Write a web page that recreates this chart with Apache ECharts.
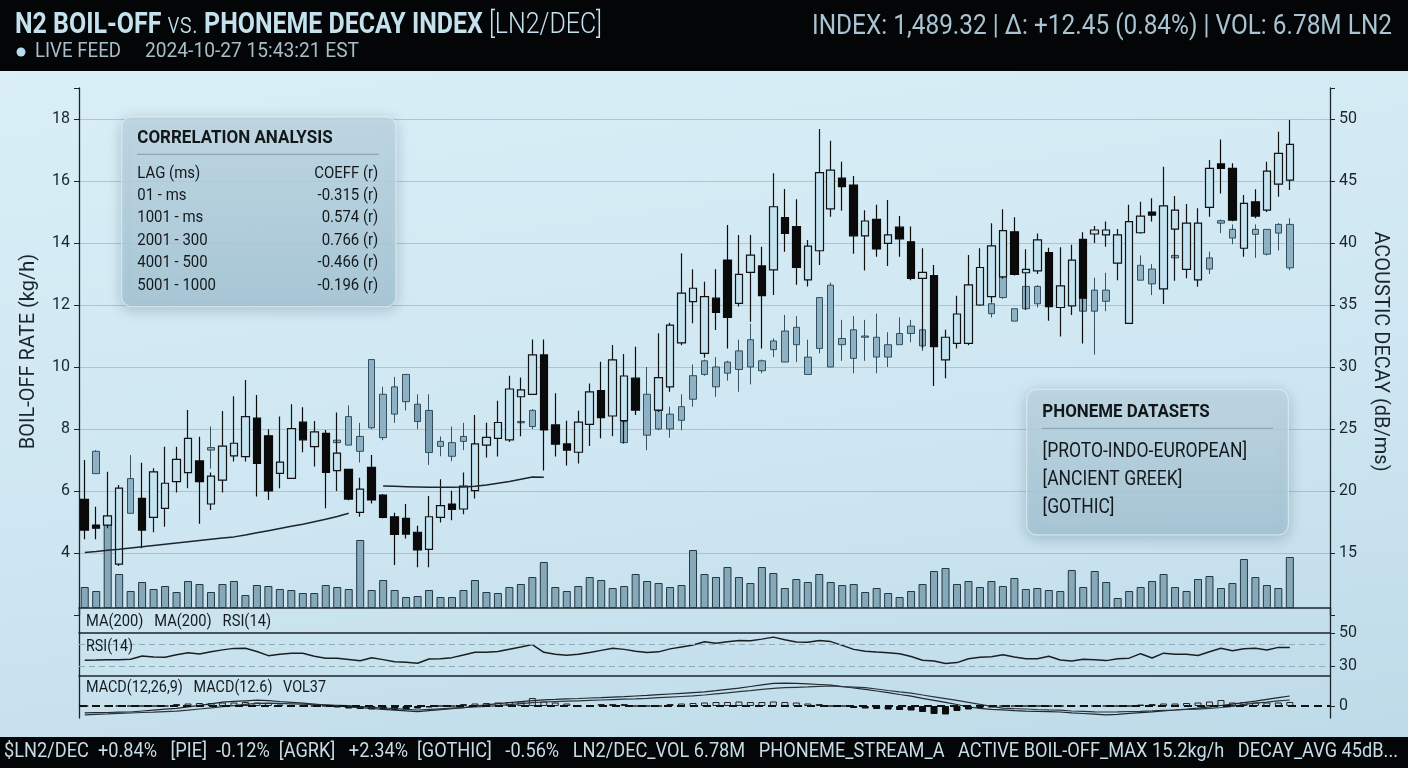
<!DOCTYPE html>
<html lang="en">
<head>
<meta charset="UTF-8">
<title>N2 Boil-off vs Phoneme Decay Index</title>
<style>
  html, body { margin: 0; padding: 0; width: 1408px; height: 768px; overflow: hidden;
    background: linear-gradient(172deg, #dbf0f8 0%, #cfe7f2 55%, #bddae8 100%); }
  #main { width: 1408px; height: 768px; }
</style>
</head>
<body>
<div id="main"></div>
<script src="https://cdn.jsdelivr.net/npm/echarts@6.0.0/dist/echarts.min.js"></script>
<script>
// ---- data ----
var slotCount = 109; // category slots on the time axis (last few stay empty)

// boil-off candles: [open, close, low, high] in kg/h
var boilOff = [
  [5.73,4.74,4.44,7.00],[4.90,4.80,4.44,5.49],[4.90,5.20,4.80,6.62],[3.64,6.09,3.58,6.19],['-','-','-','-'],
  [5.76,4.74,4.15,6.91],[5.15,6.62,4.67,6.73],[5.44,6.25,4.85,7.43],[6.30,7.02,5.95,7.43],[6.59,7.70,6.09,8.61],
  [6.97,6.30,4.94,7.75],[5.58,6.48,5.39,6.60],[6.35,7.45,5.95,8.58],[7.13,7.54,6.95,9.06],[7.11,8.40,6.95,9.58],
  [8.35,6.89,5.82,9.10],[7.78,6.00,5.71,7.99],[6.57,6.93,6.09,8.40],[6.41,8.01,6.41,8.80],[8.22,7.65,7.25,8.70],
  [7.43,7.91,6.79,8.26],[7.86,6.60,5.44,7.97],[6.66,7.22,6.00,8.53],[6.70,5.74,5.70,6.70],[5.31,6.06,5.17,6.43],
  [6.76,5.71,5.60,7.16],[5.87,5.15,5.12,5.90],[5.17,4.60,3.61,5.30],[5.12,4.61,4.47,5.58],[4.67,4.10,3.54,4.88],
  [4.12,5.17,3.54,5.84],[5.15,5.53,4.98,6.38],[5.58,5.41,5.06,6.01],[5.42,6.16,5.25,6.60],[6.01,7.52,5.76,8.45],
  [7.48,7.73,7.08,8.20],[7.70,8.21,7.11,8.91],[7.65,9.29,7.58,9.72],[9.04,9.26,7.77,9.66],[9.12,10.39,9.10,10.89],
  [10.39,7.97,6.66,10.89],[8.13,7.51,7.11,9.15],[7.52,7.32,6.82,8.27],[7.25,8.22,6.89,8.59],[8.15,9.20,7.45,9.47],
  [9.24,8.37,7.70,10.17],[8.42,10.23,7.77,10.71],[8.27,9.71,7.56,10.42],[9.64,8.61,8.45,10.65],['-','-','-','-'],
  [8.61,9.66,8.55,11.09],[9.36,11.35,9.20,11.43],[10.78,12.38,10.70,13.67],[12.11,12.54,11.41,13.15],[10.44,12.27,10.30,12.75],
  [12.22,11.76,11.19,13.15],[13.45,11.60,10.60,14.58],[12.05,12.99,11.95,14.26],[13.05,13.61,11.46,14.26],[13.26,12.30,10.60,13.88],
  [13.13,15.17,12.32,16.25],[14.82,14.31,13.72,15.74],[14.53,13.21,12.65,15.41],[12.81,13.90,12.60,14.10],[13.75,16.27,13.29,17.68],
  [15.10,16.35,14.85,17.30],[16.09,15.82,15.04,16.62],[15.87,14.23,13.65,16.16],[14.23,14.71,13.11,15.06],[14.76,13.81,13.56,15.23],
  [13.99,14.26,13.26,15.39],[14.51,14.13,13.56,14.87],[14.04,12.86,12.80,14.53],[12.86,13.05,10.60,13.83],[12.95,10.66,9.39,13.29],
  [10.23,10.96,9.64,11.20],[10.76,11.71,10.60,12.30],[10.76,12.65,10.70,13.61],[12.00,13.21,11.97,13.83],[12.27,13.91,12.10,14.64],
  [12.91,14.40,12.85,15.09],[14.36,12.99,12.95,14.83],[13.04,13.15,11.84,13.80],[13.10,14.10,13.00,14.31],[13.69,11.95,11.49,13.85],
  [11.92,12.62,10.98,13.86],[11.97,13.45,11.68,13.94],[14.12,12.22,10.76,14.35],[14.29,14.42,14.00,14.55],[14.26,14.42,13.88,14.69],
  [13.35,14.26,12.80,14.45],[11.41,14.69,11.40,15.23],[14.33,14.87,14.30,15.33],[15.00,14.90,14.69,15.44],[12.52,15.20,12.03,16.46],
  [14.45,15.06,12.78,15.52],[13.15,14.64,12.86,15.26],[12.81,14.64,12.59,15.12],[15.15,16.41,14.85,16.68],[16.55,16.41,15.60,17.34],
  [16.41,14.74,14.70,16.57],[13.83,15.28,13.56,15.55],[15.33,14.87,14.80,15.73],[15.06,16.32,15.00,16.62],[15.90,16.89,15.49,17.59],
  [16.03,17.18,15.71,17.97]
];

// acoustic decay candles (right axis, dB/ms): [slot, open, close, low, high]
var decayCandles = [
  [1,21.4,23.2,21.4,23.3],[4,18.2,21.0,18.2,22.9],[11,23.3,23.5,21.8,25.2],[22,23.9,24.1,23.8,24.3],
  [23,23.7,26.0,23.7,26.9],[24,23.2,24.4,22.3,25.5],[25,25.1,30.6,25.0,30.6],[26,24.3,27.8,24.1,28.4],
  [27,26.2,28.4,25.5,29.2],[28,27.2,29.4,26.5,29.4],[29,27.0,25.6,25.0,27.8],[30,26.5,23.1,22.1,27.8],
  [31,23.6,24.0,22.8,24.4],[32,22.8,23.9,22.4,25.2],[33,24.0,24.4,23.3,25.5],[38,25.5,25.6,25.3,25.8],
  [39,25.2,26.5,25.0,26.6],[47,23.9,25.6,23.8,25.8],[49,24.5,27.8,23.3,30.0],[50,25.0,26.5,24.9,26.6],
  [51,25.0,26.2,24.3,26.8],[52,25.7,26.8,24.9,27.8],[53,27.4,29.3,26.8,30.2],[54,29.4,30.5,29.3,30.6],
  [55,28.4,30.0,27.6,30.8],[56,29.5,30.4,28.9,30.5],[57,29.8,31.3,28.0,32.2],[58,30.0,32.2,28.6,33.5],
  [59,29.7,30.5,29.5,30.6],[60,31.4,32.1,30.8,32.3],[61,30.4,32.9,30.4,34.2],[62,31.8,33.2,30.4,34.1],
  [63,29.4,30.8,29.4,32.2],[64,31.5,35.6,31.1,35.6],[65,30.0,36.6,30.0,36.8],[66,31.8,32.3,30.5,33.8],
  [67,30.7,33.0,29.5,34.1],[68,32.4,32.5,30.5,33.8],[69,30.8,32.4,29.5,34.3],[70,30.8,31.8,30.0,32.8],
  [71,31.8,32.7,31.8,34.0],[72,32.7,33.3,32.0,33.8],[73,31.7,33.0,31.3,33.0],[79,34.3,35.1,34.0,35.3],
  [80,35.6,37.3,35.5,37.4],[81,33.7,34.7,33.7,34.7],[82,34.7,36.5,34.6,36.6],[83,35.1,36.5,34.8,36.6],
  [87,34.5,36.2,34.3,36.3],[88,34.5,36.2,31.0,37.2],[89,35.3,36.2,34.5,37.6],[92,37.0,38.2,37.0,39.0],
  [93,36.7,37.9,35.8,38.3],[95,38.8,39.0,38.8,39.0],[98,37.9,38.8,37.5,39.3],[99,41.6,41.8,40.8,41.9],
  [100,40.4,41.1,39.9,41.5],[102,40.7,41.1,38.8,41.5],[103,39.1,41.1,39.0,41.1],[104,40.8,41.5,39.4,41.6],
  [105,38.0,41.5,37.8,42.0]
];

// MA(200) overlay on boil-off (kg/h), broken between slots 23 and 26
var ma200 = [4.02,4.05,4.09,4.12,4.16,4.20,4.24,4.28,4.32,4.36,4.40,4.44,4.48,4.52,4.58,4.65,4.72,4.79,4.86,4.93,
  5.01,5.09,5.18,5.28,'-','-',6.16,6.15,6.14,6.13,6.12,6.12,6.12,6.13,6.15,6.19,6.25,6.31,6.38,6.45,6.44];

var volume = [21,17,92,34,17,26,19,22,16,27, 24,16,24,27,13,23,22,19,18,15, 15,23,21,19,68,18,28,18,11,12,
  18,11,11,18,28,16,15,21,24,31, 46,21,17,22,31,28,20,22,34,27, 25,21,23,58,34,31,41,31,25,41,
  35,20,29,26,34,26,23,24,16,20, 15,11,17,24,37,40,24,27,21,27, 22,30,19,20,18,17,38,21,37,26,
  10,17,21,27,34,21,17,29,32,20, 25,49,31,23,20,51];

var rsi14 = [33.5,33.6,33.8,33.9,34.1,36.1,35.5,35.3,36.9,38.1, 37.3,38.7,39.8,40.7,40.8,38.8,36.3,37.1,37.8,37.7,
  35.9,34.7,34.7,34.0,33.2,35.0,33.9,32.6,32.3,31.7, 34.3,34.5,35.1,36.7,38.3,38.3,38.8,40.2,41.5,43.0,
  38.3,37.2,36.5,37.2,38.2,39.5,40.8,40.1,39.0,38.2, 38.6,40.4,41.6,42.8,44.7,43.8,44.7,45.5,45.3,46.3,
  47.5,45.9,44.5,44.4,45.4,44.8,42.5,40.1,39.0,38.5, 38.1,37.5,35.8,33.5,33.1,31.6,32.1,34.4,35.4,35.6,
  36.8,35.5,34.4,34.4,35.9,33.7,33.1,34.1,33.8,33.3, 34.4,34.8,37.5,34.9,37.8,37.1,37.1,36.4,38.7,40.8,
  39.3,40.5,40.8,39.7,41.3,41.3];
var rsiBands = [43.3, 30];
var rsiTicks = [30, 50];

var macdLine = [-0.69,-0.67,-0.65,-0.62,-0.60,-0.50,-0.41,-0.32,-0.23,-0.09, 0.07,0.22,0.38,0.46,0.52,0.58,0.54,0.45,0.37,0.28,
  0.19,0.09,0.00,-0.09,-0.17,-0.25,-0.33,-0.41,-0.49,-0.57, -0.47,-0.37,-0.27,-0.16,-0.02,0.11,0.23,0.34,0.43,0.53,
  0.62,0.66,0.71,0.75,0.80,0.84,0.89,0.94,1.00,1.06, 1.13,1.20,1.27,1.34,1.41,1.53,1.66,1.79,1.95,2.11,
  2.27,2.28,2.26,2.21,2.15,2.09,1.95,1.80,1.66,1.50, 1.33,1.15,0.98,0.77,0.57,0.37,0.15,-0.10,-0.24,-0.34,
  -0.39,-0.47,-0.52,-0.54,-0.57,-0.60,-0.68,-0.75,-0.82,-0.89, -0.83,-0.74,-0.66,-0.58,-0.49,-0.40,-0.31,-0.21,-0.08,0.05,
  0.19,0.33,0.49,0.66,0.83,1.00];
var signalLine = [-0.88,-0.83,-0.79,-0.74,-0.70,-0.65,-0.61,-0.56,-0.51,-0.41, -0.30,-0.19,-0.07,0.04,0.16,0.27,0.29,0.26,0.22,0.18,
  0.14,0.11,0.07,0.03,-0.06,-0.13,-0.20,-0.26,-0.33,-0.40, -0.34,-0.28,-0.22,-0.16,-0.10,-0.04,0.03,0.13,0.23,0.33,
  0.40,0.44,0.48,0.52,0.56,0.60,0.64,0.68,0.72,0.77, 0.83,0.89,0.95,1.01,1.10,1.21,1.32,1.43,1.54,1.66,
  1.77,1.83,1.87,1.91,1.96,2.00,1.94,1.89,1.83,1.70, 1.55,1.41,1.28,1.10,0.92,0.74,0.56,0.37,0.17,-0.03,
  -0.21,-0.26,-0.30,-0.35,-0.39,-0.42,-0.50,-0.54,-0.58,-0.60, -0.58,-0.55,-0.53,-0.49,-0.44,-0.40,-0.35,-0.31,-0.24,-0.15,
  -0.05,0.16,0.28,0.39,0.51,0.60];
var macdHist = [0,0,0,0,0,0,0,0,0.2,0.25, 0.3,0.3,0.35,0.35,0.4,0.35,0.3,0.15,0,0,
  0,0,-0.15,-0.25,-0.3,-0.35,-0.35,-0.4,-0.35,-0.25, -0.15,0,0,0.2,0.25,0.3,0.35,0.4,0.45,0.8,
  0.45,0.35,0.25,0,0,0.2,0.2,0.2,0,0, 0,0.2,0.25,0.3,0.35,0.4,0.4,0.45,0.4,0.4,
  0.45,0.4,0.35,0.25,0.2,0,0,-0.2,-0.25,-0.3, -0.35,-0.4,-0.45,-0.6,-0.8,-0.85,-0.5,-0.35,-0.2,-0.15,
  0,0,0,0,0,0,0,0,0,0, 0,0,0.15,0.2,0.25,0.25,0.3,0.35,0.45,0.6,
  0.35,0.4,0.35,0.35,0.35,0.4];
var macdTicks = [0];

var corrLags = ['01 - ms', '1001 - ms', '2001 - 300', '4001 - 500', '5001 - 1000'];
var corrCoeffs = [-0.315, 0.574, 0.766, -0.466, -0.196];
var datasets = ['[PROTO-INDO-EUROPEAN]', '[ANCIENT GREEK]', '[GOTHIC]'];

var tickerText = '$LN2/DEC  +0.84%   [PIE]  -0.12%  [AGRK]   +2.34%  [GOTHIC]   -0.56%   LN2/DEC_VOL 6.78M   PHONEME_STREAM_A   ACTIVE BOIL-OFF_MAX 15.2kg/h   DECAY_AVG 45dB...';
var headerStats = 'INDEX: 1,489.32 | \u0394: +12.45 (0.84%) | VOL: 6.78M LN2';

// ---- build tables for the library ----
var categories = [];
for (var k = 0; k < slotCount; k++) categories.push('T' + (k + 1));

var decaySeries = boilOff.map(function () { return ['-', '-', '-', '-']; });
decayCandles.forEach(function (d) { decaySeries[d[0]] = [d[1], d[2], d[3], d[4]]; });

var histData = macdHist.map(function (v) {
  return { value: v, itemStyle: v < 0
    ? { color: '#0c0c0c', borderColor: '#0c0c0c' }
    : { color: '#bfdbe6', borderColor: '#262626' } };
});

// ---- text helpers (condensed look via horizontal scale) ----
var FONT = 'Roboto';
var measureCtx = document.createElement('canvas').getContext('2d');
function measure(str, weight, size) {
  measureCtx.font = weight + ' ' + size + 'px ' + FONT;
  return measureCtx.measureText(str).width;
}
function txt(str, x, y, o) {
  return {
    type: 'text', z: 100, x: x, y: y, scaleX: o.scale || 1,
    style: {
      text: str, fill: o.color, fontFamily: FONT, fontSize: o.size,
      fontWeight: o.weight || 'normal', align: o.align || 'left', verticalAlign: 'middle'
    }
  };
}

var titleParts = [['N2 BOIL-OFF', 'bold'], [' vs. ', '300'], ['PHONEME DECAY INDEX', 'bold'], [' [LN2/DEC]', '300']];
var titleW = 0;
titleParts.forEach(function (p) { titleW += measure(p[0], p[1], 30); });
var titleScale = 587 / titleW;

var bodyScale = 78.7 / measure('5001 - 1000', 'normal', 17);
var dsScale = 204.6 / measure(datasets[0], 'normal', 20);

var graphics = [
  { type: 'rect', z: 90, shape: { x: 0, y: 0, width: 1408, height: 71 }, style: { fill: '#030506' } },
  { type: 'rect', z: 90, shape: { x: 0, y: 737, width: 1408, height: 31 }, style: { fill: '#030506' } },
  {
    type: 'text', z: 100, x: 15, y: 25, scaleX: titleScale,
    style: {
      text: '{b|N2 BOIL-OFF}{l| vs. }{b|PHONEME DECAY INDEX}{l| [LN2/DEC]}',
      verticalAlign: 'middle', align: 'left',
      rich: {
        b: { fontFamily: FONT, fontSize: 30, fontWeight: 'bold', fill: '#c4e1ee' },
        l: { fontFamily: FONT, fontSize: 30, fontWeight: 300, fill: '#c4e1ee' }
      }
    }
  },
  { type: 'circle', z: 100, shape: { cx: 21, cy: 52, r: 4.5 }, style: { fill: '#b9dced' } },
  txt('LIVE FEED', 35, 52, { size: 20, color: '#a9bec9', scale: 86 / measure('LIVE FEED', 'normal', 20) }),
  txt('2024-10-27 15:43:21 EST', 145, 52, { size: 20, color: '#a9bec9', scale: 214 / measure('2024-10-27 15:43:21 EST', 'normal', 20) }),
  txt(headerStats, 1392, 27, { size: 28, color: '#a8c4d2', align: 'right', scale: 580 / measure(headerStats, 'normal', 28) }),
  txt(tickerText, 4, 752, { size: 21, color: '#c6dbe6', scale: 1394 / measure(tickerText, 'normal', 21) }),
  // indicator strip labels
  txt('MA(200)   MA(200)   RSI(14)', 86, 622, { size: 16, color: '#141a1e', scale: 185 / measure('MA(200)   MA(200)   RSI(14)', 'normal', 16) }),
  txt('RSI(14)', 86, 647, { size: 16, color: '#141a1e', scale: 47 / measure('RSI(14)', 'normal', 16) }),
  txt('MACD(12,26,9)   MACD(12.6)   VOL37', 86, 688, { size: 16, color: '#141a1e', scale: 240 / measure('MACD(12,26,9)   MACD(12.6)   VOL37', 'normal', 16) })
];

function panel(x, y, w, h) {
  return {
    type: 'rect', z: 95, shape: { x: x, y: y, width: w, height: h, r: 10 },
    style: {
      fill: new echarts.graphic.LinearGradient(0, 0, 0, 1, [
        { offset: 0, color: 'rgba(192,216,228,0.82)' },
        { offset: 1, color: 'rgba(166,198,213,0.82)' }
      ]),
      stroke: 'rgba(226,240,247,0.85)', lineWidth: 1,
      shadowBlur: 14, shadowColor: 'rgba(30,60,80,0.28)', shadowOffsetY: 3
    }
  };
}

// correlation box
graphics.push(panel(121.7, 116.7, 274.3, 190));
graphics.push(txt('CORRELATION ANALYSIS', 137.3, 138.3, { size: 18, weight: 'bold', color: '#121719',
  scale: 195.3 / measure('CORRELATION ANALYSIS', 'bold', 18) }));
graphics.push({ type: 'line', z: 100, shape: { x1: 137, y1: 154.3, x2: 379, y2: 154.3 }, style: { stroke: '#8ca8b5', lineWidth: 1.2 } });
graphics.push(txt('LAG (ms)', 137.3, 173.3, { size: 17, color: '#15191c', scale: bodyScale }));
graphics.push(txt('COEFF (r)', 378.3, 173.3, { size: 17, color: '#15191c', align: 'right', scale: bodyScale }));
corrLags.forEach(function (lag, i) {
  var y = 195.7 + i * 22.5;
  graphics.push(txt(lag, 137.3, y, { size: 17, color: '#15191c', scale: bodyScale }));
  graphics.push(txt(corrCoeffs[i].toFixed(3) + ' (r)', 378.3, y, { size: 17, color: '#15191c', align: 'right', scale: bodyScale }));
});

// phoneme dataset box
graphics.push(panel(1026.7, 389.3, 261.6, 145.7));
graphics.push(txt('PHONEME DATASETS', 1042.3, 412.2, { size: 19, weight: 'bold', color: '#121719',
  scale: 167.4 / measure('PHONEME DATASETS', 'bold', 19) }));
graphics.push({ type: 'line', z: 100, shape: { x1: 1042, y1: 428.3, x2: 1273, y2: 428.3 }, style: { stroke: '#8ca8b5', lineWidth: 1.2 } });
datasets.forEach(function (d, i) {
  graphics.push(txt(d, 1042.5, 451.7 + i * 28.3, { size: 20, color: '#15191c', scale: dsScale }));
});

// ---- chart ----
var axisInk = '#1b262c';
var labelStyle = { color: '#1b262c', fontFamily: FONT, fontSize: 16 };
function stripX(gi, showLine) {
  return {
    type: 'category', gridIndex: gi, data: categories, boundaryGap: true,
    axisLabel: { show: false }, axisTick: { show: false }, splitLine: { show: false },
    axisLine: { show: showLine, onZero: false, lineStyle: { color: axisInk, width: 1.5 } }
  };
}
function edgeY(gi, pos) {
  return {
    type: 'value', gridIndex: gi, position: pos, axisLabel: { show: false }, axisTick: { show: false },
    splitLine: { show: false }, axisLine: { show: true, lineStyle: { color: axisInk, width: 1.3 } }
  };
}

var chart = echarts.init(document.getElementById('main'), null, { renderer: 'canvas' });
chart.setOption({
  animation: false,
  textStyle: { fontFamily: FONT },
  graphic: { elements: graphics },
  grid: [
    { left: 79, right: 78, top: 88, bottom: 153 },
    { left: 79, right: 78, top: 488, bottom: 160 },
    { left: 79, right: 78, top: 608, bottom: 135 },
    { left: 79, right: 78, top: 633, bottom: 92 },
    { left: 79, right: 78, top: 676, bottom: 50 }
  ],
  xAxis: [stripX(0, false), stripX(1, true), stripX(2, true), stripX(3, true), stripX(4, false)],
  yAxis: [
    {
      type: 'value', gridIndex: 0, position: 'left', min: 2, max: 19, interval: 2,
      name: 'BOIL-OFF RATE (kg/h)', nameLocation: 'middle', nameGap: 40,
      nameTextStyle: { color: '#1b262c', fontFamily: FONT, fontSize: 20 },
      axisLine: { show: true, lineStyle: { color: axisInk, width: 1.3 } },
      axisTick: { show: true, length: 5, lineStyle: { color: axisInk } },
      axisLabel: Object.assign({ margin: 9, formatter: function (v) { return v >= 4 && v <= 18 ? v : ''; } }, labelStyle),
      splitLine: { show: true, showMinLine: false, showMaxLine: false, lineStyle: { color: 'rgba(118,156,174,0.45)', width: 1 } }
    },
    {
      type: 'value', gridIndex: 0, position: 'right', min: 10, max: 52.5, interval: 5,
      name: 'ACOUSTIC DECAY (dB/ms)', nameLocation: 'middle', nameGap: 40, nameRotate: -90,
      nameTextStyle: { color: '#1b262c', fontFamily: FONT, fontSize: 20 },
      axisLine: { show: true, lineStyle: { color: axisInk, width: 1.3 } },
      axisTick: { show: true, length: 5, lineStyle: { color: axisInk } },
      axisLabel: Object.assign({ margin: 9, formatter: function (v) { return v >= 15 && v <= 50 ? v : ''; } }, labelStyle),
      splitLine: { show: false }
    },
    { type: 'value', gridIndex: 1, min: 0, max: 120, show: false },
    edgeY(2, 'left'), edgeY(2, 'right'),
    edgeY(3, 'left'),
    {
      type: 'value', gridIndex: 3, position: 'right', min: 24, max: 50,
      axisLine: { show: true, lineStyle: { color: axisInk, width: 1.3 } },
      axisTick: { show: true, length: 5, customValues: rsiTicks, lineStyle: { color: axisInk } },
      axisLabel: Object.assign({ margin: 9, customValues: rsiTicks }, labelStyle),
      splitLine: { show: false }
    },
    edgeY(4, 'left'),
    {
      type: 'value', gridIndex: 4, position: 'right', min: -1.2, max: 3,
      axisLine: { show: true, lineStyle: { color: axisInk, width: 1.3 } },
      axisTick: { show: true, length: 5, customValues: macdTicks, lineStyle: { color: axisInk } },
      axisLabel: Object.assign({ margin: 9, customValues: macdTicks }, labelStyle),
      splitLine: { show: false }
    }
  ],
  series: [
    {
      name: 'Volume', type: 'bar', xAxisIndex: 1, yAxisIndex: 2, data: volume, barWidth: 8, z: 1,
      itemStyle: { color: '#86a9ba', borderColor: '#233843', borderWidth: 1 }
    },
    {
      name: 'Acoustic decay', type: 'candlestick', xAxisIndex: 0, yAxisIndex: 1, data: decaySeries, barWidth: 7, z: 3,
      itemStyle: { color: '#88adc0', color0: '#7398ac', borderColor: '#2a4453', borderColor0: '#2a4453', borderWidth: 1, opacity: 0.92 }
    },
    {
      name: 'Boil-off', type: 'candlestick', xAxisIndex: 0, yAxisIndex: 0, data: boilOff, barWidth: 8, z: 4,
      itemStyle: { color: '#c3e3f1', color0: '#0a0a0a', borderColor: '#121212', borderColor0: '#0a0a0a', borderWidth: 1.2 }
    },
    {
      name: 'MA(200)', type: 'line', xAxisIndex: 0, yAxisIndex: 0, data: ma200, showSymbol: false, z: 5,
      connectNulls: false, lineStyle: { color: '#1c262c', width: 1.5 }
    },
    {
      name: 'RSI(14)', type: 'line', xAxisIndex: 3, yAxisIndex: 6, data: rsi14, showSymbol: false,
      lineStyle: { color: '#1a1f22', width: 1.5 },
      markLine: {
        silent: true, symbol: 'none', label: { show: false },
        lineStyle: { color: '#8eadbb', type: [6, 4], width: 1.2 },
        data: rsiBands.map(function (v) { return { yAxis: v }; })
      }
    },
    {
      name: 'MACD hist', type: 'bar', xAxisIndex: 4, yAxisIndex: 8, data: histData, barWidth: 7,
      itemStyle: { borderWidth: 1 },
      markLine: {
        silent: true, symbol: 'none', label: { show: false },
        lineStyle: { color: '#111', type: [8, 5], width: 2 },
        data: [{ yAxis: 0 }]
      }
    },
    {
      name: 'MACD', type: 'line', xAxisIndex: 4, yAxisIndex: 8, data: macdLine, showSymbol: false,
      lineStyle: { color: '#1e282d', width: 1.2 }
    },
    {
      name: 'Signal', type: 'line', xAxisIndex: 4, yAxisIndex: 8, data: signalLine, showSymbol: false,
      lineStyle: { color: '#2b363c', width: 1.2 }
    }
  ]
});
</script>
</body>
</html>
